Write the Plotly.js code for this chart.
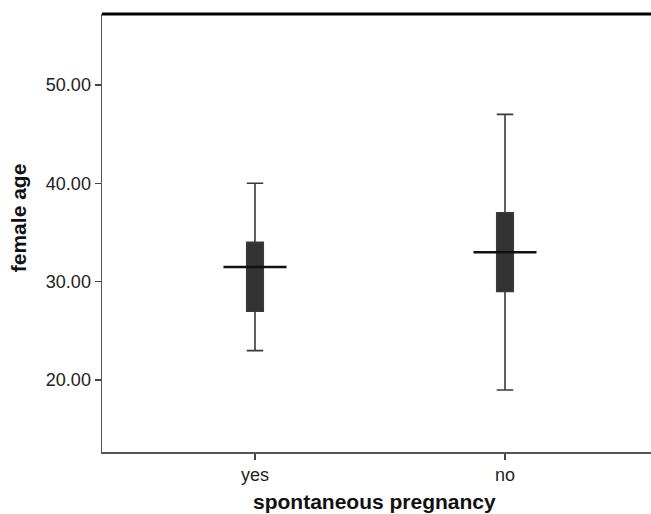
<!DOCTYPE html>
<html>
<head>
<meta charset="utf-8">
<script src="https://cdn.plot.ly/plotly-3.0.1.min.js"></script>
<style>html,body{margin:0;padding:0;background:#fff;}#chart{width:651px;height:514px;}</style>
</head>
<body>
<div id="chart"></div>
<script>
var categories = ['yes', 'no'];
var lowerWhisker = [23, 19];
var q1Values = [27, 29];
var medianValues = [31.5, 33];
var q3Values = [34, 37];
var upperWhisker = [40, 47];
var yTickVals = [20, 30, 40, 50];
var yTickText = ['20.00', '30.00', '40.00', '50.00'];

var positions = categories.map(function (c, i) { return i; });
var medianHalfWidth = 0.126;

var boxTrace = {
  type: 'box',
  x: positions,
  q1: q1Values,
  median: medianValues,
  q3: q3Values,
  lowerfence: lowerWhisker,
  upperfence: upperWhisker,
  width: 0.066,
  whiskerwidth: 1,
  fillcolor: '#333333',
  line: {color: '#3a3a3a', width: 1.6},
  boxpoints: false,
  hoverinfo: 'skip',
  showlegend: false
};

var medX = [], medY = [];
positions.forEach(function (p, i) {
  medX.push(p - medianHalfWidth, p + medianHalfWidth, null);
  medY.push(medianValues[i], medianValues[i], null);
});

var medianTrace = {
  type: 'scatter',
  mode: 'lines',
  x: medX,
  y: medY,
  line: {color: '#111111', width: 2.6},
  hoverinfo: 'skip',
  showlegend: false
};

var layout = {
  width: 651,
  height: 514,
  margin: {l: 102, r: 0, t: 14, b: 61.5},
  paper_bgcolor: '#ffffff',
  plot_bgcolor: '#ffffff',
  font: {family: 'Liberation Sans, Arial, sans-serif', color: '#222222'},
  xaxis: {
    range: [-0.612, 1.584],
    tickvals: positions,
    ticktext: categories,
    showgrid: false,
    zeroline: false,
    showline: true,
    linecolor: '#555555',
    linewidth: 1.5,
    ticks: 'outside',
    ticklen: 6,
    tickwidth: 1.5,
    tickcolor: '#444444',
    tickfont: {size: 18, color: '#222222'}
  },
  yaxis: {
    range: [12.7, 57.2],
    tickvals: yTickVals,
    ticktext: yTickText,
    showgrid: false,
    zeroline: false,
    showline: true,
    linecolor: '#555555',
    linewidth: 1.5,
    ticks: 'outside',
    ticklen: 6,
    tickwidth: 1.5,
    tickcolor: '#444444',
    tickfont: {size: 18, color: '#222222'}
  },
  shapes: [{
    type: 'line', xref: 'paper', yref: 'paper',
    x0: 0, x1: 1, y0: 1, y1: 1,
    line: {color: '#000000', width: 3}
  }],
  annotations: [
    {
      text: '<b>spontaneous pregnancy</b>',
      xref: 'paper', yref: 'paper',
      x: 0.496, y: -0.113,
      xanchor: 'center', yanchor: 'middle',
      showarrow: false,
      font: {size: 21, color: '#111111'}
    },
    {
      text: '<b>female age</b>',
      xref: 'paper', yref: 'paper',
      x: -0.152, y: 0.535,
      xanchor: 'center', yanchor: 'middle',
      textangle: -90,
      showarrow: false,
      font: {size: 21, color: '#111111'}
    }
  ]
};

Plotly.newPlot('chart', [boxTrace, medianTrace], layout, {displayModeBar: false, staticPlot: true});
</script>
</body>
</html>
